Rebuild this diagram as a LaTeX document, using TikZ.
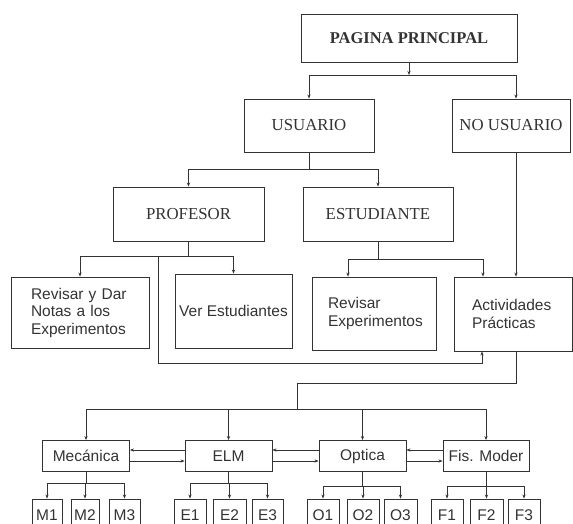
\documentclass[tikz,border=0pt]{standalone}
\usepackage{fontspec}
\setmainfont{Liberation Serif}
\setsansfont{Liberation Sans}
\usetikzlibrary{arrows.meta}

\tikzset{
  box/.style={draw, line width=0.9pt, inner sep=0pt, font=\fontsize{16.8}{18}\selectfont},
  sbox/.style={box, font=\sffamily\fontsize{15.5}{17.5}\selectfont},
  cat/.style={sbox, minimum width=87pt, minimum height=31pt},
  leaf/.style={sbox, minimum height=32pt},
  arr/.style={-{Stealth[length=4pt,width=3.2pt]}}
}

\begin{document}
\begin{tikzpicture}[x=1pt, y=-1pt, color=black!80, line width=0.8pt]
  \useasboundingbox (0,0) rectangle (573,523);
  % upper levels
  \node[box, font=\bfseries\fontsize{16.5}{18}\selectfont, minimum width=216pt, minimum height=48pt] (pag) at (409,38) {PAGINA PRINCIPAL};
  \node[box, minimum width=130pt, minimum height=53pt] (usu) at (309,125.5) {USUARIO};
  \node[box, minimum width=118pt, minimum height=53pt] (nous) at (511,125.5) {NO USUARIO};
  \node[box, minimum width=151pt, minimum height=54pt] (prof) at (188.5,214) {PROFESOR};
  \node[box, minimum width=150pt, minimum height=54pt] (est) at (378,214) {ESTUDIANTE};
  \node[sbox, minimum height=71pt, text width=98pt, inner xsep=20pt, align=left] (rev) at (80,312.5) {Revisar y Dar\\ Notas a los\\ Experimentos};
  \node[sbox, minimum width=117pt, minimum height=74pt] (ver) at (233.5,311) {Ver Estudiantes};
  \node[sbox, minimum height=73pt, text width=92pt, inner xsep=16pt, align=left] (rexp) at (374,313.5) {Revisar\\ Experimentos};
  \node[sbox, minimum height=74pt, text width=82pt, inner xsep=18pt, align=left] (act) at (513,314) {Actividades\\ Prácticas};
  % areas
  \node[cat] (mec) at (86,456) {Mecánica};
  \node[cat] (elm) at (228.5,456) {ELM};
  \node[cat] (opt) at (362.5,456) {Optica};
  \node[cat, minimum width=86pt] (fis) at (486,456) {Fis. Moder};
  \foreach \n/\x/\w in {M1/47/30,M2/85/28,M3/124.5/31,E1/190/32,E2/229.5/33,E3/267.5/31,O1/323/32,O2/363/32,O3/400.5/33,F1/447/32,F2/486.5/33,F3/524/32}
    \node[leaf, minimum width=\w pt] (\n) at (\x,515) {\n};

  % connectors
  \coordinate (j1) at (409,75);
  \draw[arr] (pag.south) -- (j1);
  \draw[arr] (j1) -| (usu.north);
  \draw[arr] (j1) -| ([xshift=5pt]nous.north);
  \draw (usu.south) -- ++(0,17) coordinate (j2);
  \draw[arr] (j2) -| (prof.north);
  \draw[arr] (j2) -| (est.north);
  \draw[arr] ([xshift=5pt]nous.south) -- ([xshift=3pt]act.north);
  \draw (prof.south) -- ++(0,15) coordinate (j3);
  \draw[arr] (j3) -| (rev.north);
  \draw[arr] (j3) -| (ver.north);
  \coordinate (j4) at (158,256);
  \draw[arr] (j4) |- ([xshift=-31pt,yshift=-12pt]act.south) -- ([xshift=-31pt]act.south);
  \draw (est.south) -- ++(0,18) coordinate (j5);
  \draw[arr] (j5) -| ([xshift=-26pt]rexp.north);
  \draw[arr] (j5) -| ([xshift=-30pt]act.north);
  \coordinate (j6) at (297,383);
  \coordinate (j7) at (297,409);
  \draw ([xshift=3pt]act.south) |- (j6) -- (j7);
  \foreach \c in {mec,elm,opt,fis}
    \draw[arr] (j7) -| (\c.north);
  \foreach \a/\b in {mec/elm,elm/opt,opt/fis}{
    \draw[arr] ([yshift=6pt]\b.west) -- ([yshift=6pt]\a.east);
    \draw[arr] ([yshift=-5pt]\a.east) -- ([yshift=-5pt]\b.west);
  }
  \foreach \c/\l/\d in {mec/M/11.5,elm/E/11.5,opt/O/14.5,fis/F/14}{
    \draw (\c.south) -- ++(0,\d) coordinate (b\l);
    \foreach \i in {1,2,3}
      \draw[arr] (b\l) -| (\l\i.north);
  }
\end{tikzpicture}
\end{document}
